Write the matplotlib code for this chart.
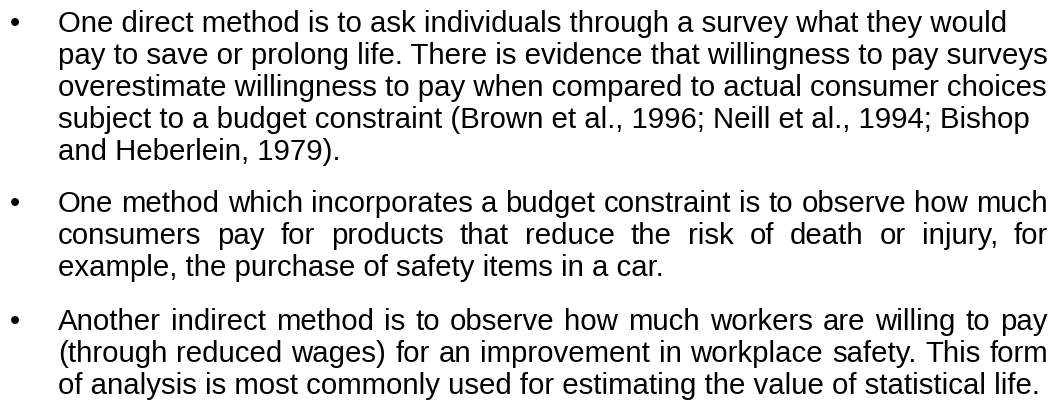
import matplotlib
matplotlib.use('Agg')
import matplotlib.pyplot as plt

# text of the three bullet points, one entry per printed line
para1 = [
    "One direct method is to ask individuals through a survey what they would",
    "pay to save or prolong life. There is evidence that willingness to pay surveys",
    "overestimate willingness to pay when compared to actual consumer choices",
    "subject to a budget constraint (Brown et al., 1996; Neill et al., 1994; Bishop",
    "and Heberlein, 1979).",
]
para2 = [
    "One method which incorporates a budget constraint is to observe how much",
    "consumers pay for products that reduce the risk of death or injury,  for",
    "example, the purchase of safety items in a car.",
]
para3 = [
    "Another indirect method is to observe how much workers are willing to pay",
    "(through reduced wages) for an improvement in workplace safety. This form",
    "of analysis is most commonly used for estimating the value of statistical life.",
]
paragraphs = [para1, para2, para3]
justified = [False, True, True]

W, H = 1055, 407
fig = plt.figure(figsize=(W / 100, H / 100), dpi=100)
ax = fig.add_axes([0, 0, 1, 1])
ax.set_xlim(0, W)
ax.set_ylim(H, 0)
ax.axis('off')

font = dict(family=['Liberation Sans', 'DejaVu Sans'], size=21.2, color='black')
x_left, x_right = 58, 1048
x_bullet = 15
line_h = 32
para_gap = 21

renderer = fig.canvas.get_renderer()

y = 31.5
for lines, just in zip(paragraphs, justified):
    ax.text(x_bullet, y, "\u2022", ha='center', va='baseline',
            family=['Liberation Sans', 'DejaVu Sans'], size=21, color='black')
    for i, line in enumerate(lines):
        last = i == len(lines) - 1
        if not just or last:
            ax.text(x_left, y, line, ha='left', va='baseline', **font)
        else:
            words = line.split()
            texts = [ax.text(0, y, w, ha='left', va='baseline', **font) for w in words]
            widths = [t.get_window_extent(renderer).width for t in texts]
            gap = (x_right - x_left - sum(widths)) / (len(words) - 1)
            x = x_left
            for t, w in zip(texts, widths):
                t.set_x(x)
                x += w + gap
        y += line_h
    y += para_gap

fig.savefig('out.png', dpi=100)
